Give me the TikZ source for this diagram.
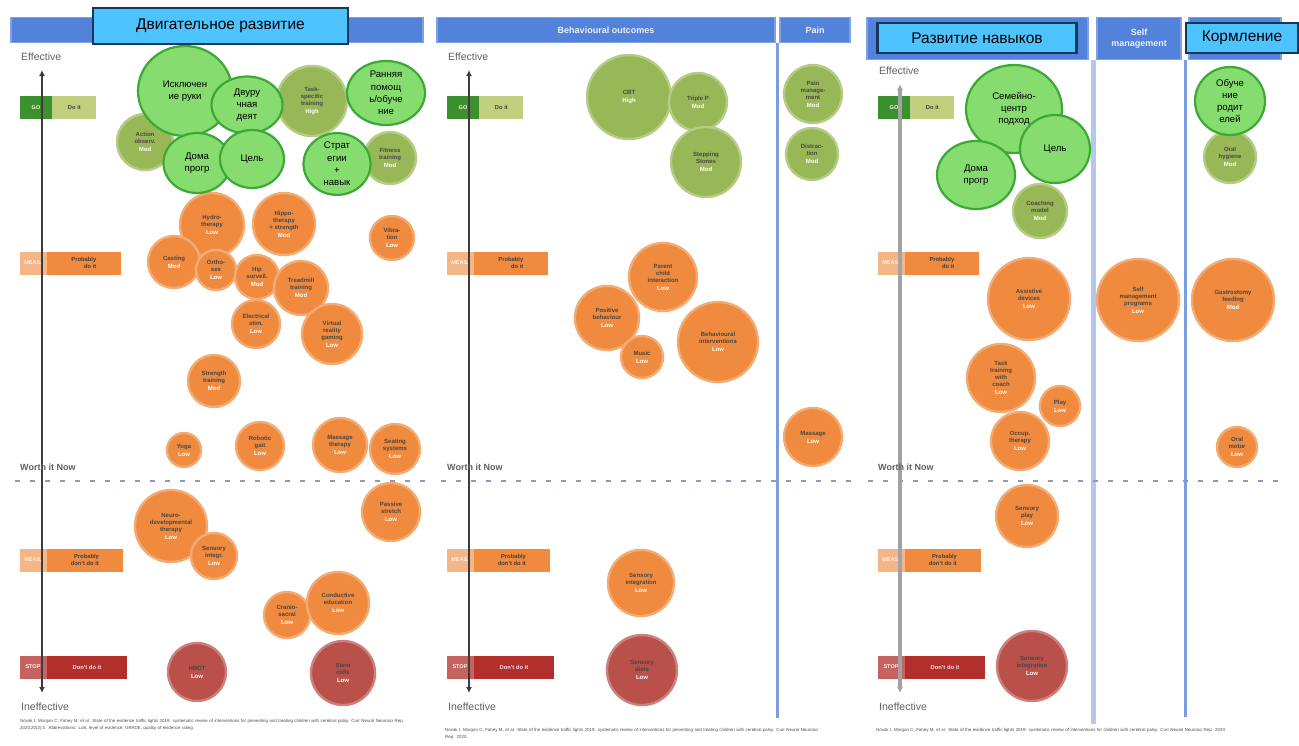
\documentclass[tikz,border=0pt]{standalone}
\usepackage{fontspec}
\setmainfont{Liberation Sans}
\usetikzlibrary{arrows.meta,shapes.geometric}
\definecolor{hdrblue}{HTML}{5382DA}
\definecolor{ttlfill}{HTML}{4DC3FF}
\definecolor{ttledge}{HTML}{16365C}
\definecolor{gfill}{HTML}{86DC6E}
\definecolor{gedge}{HTML}{3BAA34}
\definecolor{olivebub}{HTML}{98B857}
\definecolor{orng}{HTML}{EF8A3E}
\definecolor{rbub}{HTML}{B9504A}
\definecolor{rleg}{HTML}{B32F2C}
\definecolor{gleg}{HTML}{3D9030}
\definecolor{gtag}{HTML}{C2CF7E}
\definecolor{divblue}{HTML}{7C9CE2}
\definecolor{divlight}{HTML}{B3C7EF}
\definecolor{axdark}{HTML}{3C3C3C}
\definecolor{axlight}{HTML}{A2A2A2}
\definecolor{txtgray}{HTML}{606060}
\definecolor{dashc}{HTML}{8C9AB8}
\begin{document}
\begin{tikzpicture}[x=1pt,y=-1pt,
  every node/.style={inner sep=0pt},
  hbar/.style={rectangle, fill=hdrblue, draw=hdrblue!75!white, line width=1.2pt,
    text=white!88!hdrblue, font=\bfseries\fontsize{9}{10.5}\selectfont, align=center},
  ttl/.style={rectangle, fill=ttlfill, draw=ttledge, line width=2.4pt,
    font=\fontsize{15.5}{18}\selectfont, text=black},
  gb/.style={ellipse, fill=gfill, draw=gedge, line width=2.2pt, align=center,
    font=\fontsize{9.6}{12.3}\selectfont, text=black},
  soft/.style={circle, align=center, line width=2.4pt,
    font=\bfseries\fontsize{6}{7}\selectfont, text=black!72},
  ob/.style={soft, fill=orng, draw=orng!72!white},
  olb/.style={soft, fill=olivebub, draw=olivebub!72!white},
  rb/.style={soft, fill=rbub, draw=rbub!72!white},
  legL/.style={rectangle, minimum height=23, text=white!90!orng,
    font=\bfseries\fontsize{5.5}{6.5}\selectfont, align=center},
  legR/.style={rectangle, minimum height=23, anchor=west, text=black!75,
    font=\bfseries\fontsize{5.8}{6.8}\selectfont, align=right},
  vaxis/.style={line width=2.6pt, {Latex[length=6pt,width=6pt]}-{Latex[length=6pt,width=6pt]}},
  divider/.style={line width=3pt, draw=divblue},
  midline/.style={draw=dashc, line width=2.2pt, dash pattern=on 5pt off 10pt},
  axlabel/.style={anchor=west, text=txtgray, font=\fontsize{10.5}{12}\selectfont},
  wlabel/.style={anchor=west, text=txtgray, font=\bfseries\fontsize{9}{11}\selectfont},
  foot/.style={anchor=north west, align=left, text=black!70,
    font=\fontsize{4.4}{7}\selectfont}
]
\useasboundingbox (0,0) rectangle (1299,745);
\fill[white] (0,0) rectangle (1299,745);

% ---------- header bars ----------
\node[hbar, minimum width=412, minimum height=25] (hL) at (217,30) {};
\node[hbar, minimum width=338, minimum height=25] (hM1) at (606,30) {Behavioural outcomes};
\node[hbar, minimum width=70, minimum height=25] (hM2) at (815,30) {Pain};
\node[hbar, minimum width=221, minimum height=42] (hR1) at (977.5,38.5) {};
\node[hbar, minimum width=84, minimum height=42] (hR2) at (1139,38.5) {Self\\management};
\node[hbar, minimum width=92, minimum height=42] (hR3) at (1235,38.5) {};

% ---------- column dividers ----------
\coordinate (dM1) at (777,43);  \coordinate (dM2) at (777,718);
\coordinate (dR1) at (1093,60); \coordinate (dR2) at (1093,724);
\coordinate (dR3) at (1185,60); \coordinate (dR4) at (1185,717);
\draw[divider] (dM1) -- (dM2);
\draw[divider, draw=divlight, line width=5pt] (dR1) -- (dR2);
\draw[divider] (dR3) -- (dR4);

% ---------- dashed threshold lines ----------
\foreach \a/\b/\p in {15/426/L, 441/853/M, 868/1282/R}{
  \coordinate (ds\p) at (\a,481);
  \coordinate (de\p) at (\b,481);
  \draw[midline] (ds\p) -- (de\p);
}

% ---------- legend tags, axes and axis labels ----------
\foreach \ax/\p/\tp/\ac/\aw/\ey in {42/L/70/axdark/2.6/57, 469/M/70/axdark/2.6/57, 900/R/84/axlight/4.5/71}{
  \node[legL, fill=gleg, minimum width=32] (go\p) at (\ax-6,107.5) {GO};
  \node[legR, fill=gtag, minimum width=44] (goT\p) at (go\p.east) {Do it};
  \node[legL, fill=orng!62!white, minimum width=27] (pa\p) at (\ax-9,263) {MEAS.};
  \node[legR, fill=orng, minimum width=74] (paT\p) at (pa\p.east) {Probably\\do it};
  \node[legL, fill=orng!62!white, minimum width=27] (pb\p) at (\ax-9,560) {MEAS.};
  \node[legR, fill=orng, minimum width=76] (pbT\p) at (pb\p.east) {Probably\\don't do it};
  \node[legL, fill=rleg!75!white, minimum width=27] (st\p) at (\ax-9,667) {STOP};
  \node[legR, fill=rleg, minimum width=80, text=white!85!rleg] (stT\p) at (st\p.east) {Don't do it};
  \coordinate (top\p) at (\ax,\tp);
  \coordinate (bot\p) at (\ax,693);
  \draw[vaxis, draw=\ac, line width=\aw pt] (top\p) -- (bot\p);
  \node[axlabel] (eff\p) at (\ax-21,\ey) {Effective};
  \node[axlabel] (ineff\p) at (\ax-21,707) {Ineffective};
  \node[wlabel] (wn\p) at (\ax-22,467) {Worth it Now};
}

% ---------- motor development: blurred bubbles ----------
\node[olb, minimum size=70] (mo1) at (312,101) {Task-\\specific\\training\\[1pt]\textcolor{white}{High}};
\node[olb, minimum size=56] (mo2) at (145,142) {Action\\observ.\\[1pt]\textcolor{white}{Mod}};
\node[olb, minimum size=52] (mo3) at (390,158) {Fitness\\training\\[1pt]\textcolor{white}{Mod}};

\node[ob, minimum size=64] (ma) at (212,225) {Hydro-\\therapy\\[1pt]\textcolor{white}{Low}};
\node[ob, minimum size=62] (mb) at (284,224) {Hippo-\\therapy\\+ strength\\[1pt]\textcolor{white}{Mod}};
\node[ob, minimum size=44] (mc) at (392,238) {Vibra-\\tion\\[1pt]\textcolor{white}{Low}};
\node[ob, minimum size=52] (md) at (174,262) {Casting\\[1pt]\textcolor{white}{Mod}};
\node[ob, minimum size=40] (me) at (216,270) {Ortho-\\ses\\[1pt]\textcolor{white}{Low}};
\node[ob, minimum size=44] (mf) at (257,277) {Hip\\surveil.\\[1pt]\textcolor{white}{Mod}};
\node[ob, minimum size=54] (mg) at (301,288) {Treadmill\\training\\[1pt]\textcolor{white}{Mod}};
\node[ob, minimum size=48] (mh) at (256,324) {Electrical\\stim.\\[1pt]\textcolor{white}{Low}};
\node[ob, minimum size=60] (mi) at (332,334) {Virtual\\reality\\gaming\\[1pt]\textcolor{white}{Low}};
\node[ob, minimum size=52] (mj) at (214,381) {Strength\\training\\[1pt]\textcolor{white}{Mod}};
\node[ob, minimum size=34] (mk) at (184,450) {Yoga\\[1pt]\textcolor{white}{Low}};
\node[ob, minimum size=48] (ml) at (260,446) {Robotic\\gait\\[1pt]\textcolor{white}{Low}};
\node[ob, minimum size=54] (mm) at (340,445) {Massage\\therapy\\[1pt]\textcolor{white}{Low}};
\node[ob, minimum size=50] (mn) at (395,449) {Seating\\systems\\[1pt]\textcolor{white}{Low}};
\node[ob, minimum size=72] (mp) at (171,526) {Neuro-\\developmental\\therapy\\[1pt]\textcolor{white}{Low}};
\node[ob, minimum size=46] (mq) at (214,556) {Sensory\\integr.\\[1pt]\textcolor{white}{Low}};
\node[ob, minimum size=58] (mr) at (391,512) {Passive\\stretch\\[1pt]\textcolor{white}{Low}};
\node[ob, minimum size=46] (mt) at (287,615) {Cranio-\\sacral\\[1pt]\textcolor{white}{Low}};
\node[ob, minimum size=62] (ms) at (338,603) {Conductive\\education\\[1pt]\textcolor{white}{Low}};
\node[rb, minimum size=58] (mu) at (197,672) {HBOT\\[1pt]\textcolor{white}{Low}};
\node[rb, minimum size=64] (mv) at (343,673) {Stem\\cells\\[1pt]\textcolor{white}{Low}};

% ---------- behavioural outcomes and pain ----------
\node[olb, minimum size=84] (bg1) at (629,97) {CBT\\[1pt]\textcolor{white}{High}};
\node[olb, minimum size=58] (bg2) at (698,102) {Triple P\\[1pt]\textcolor{white}{Mod}};
\node[olb, minimum size=70] (bg3) at (706,162) {Stepping\\Stones\\[1pt]\textcolor{white}{Mod}};
\node[olb, minimum size=58] (pg1) at (813,94) {Pain\\manage-\\ment\\[1pt]\textcolor{white}{Mod}};
\node[olb, minimum size=52] (pg2) at (812,154) {Distrac-\\tion\\[1pt]\textcolor{white}{Mod}};
\node[ob, minimum size=68] (bo1) at (663,277) {Parent\\child\\interaction\\[1pt]\textcolor{white}{Low}};
\node[ob, minimum size=64] (bo2) at (607,318) {Positive\\behaviour\\[1pt]\textcolor{white}{Low}};
\node[ob, minimum size=42] (bo3) at (642,357) {Music\\[1pt]\textcolor{white}{Low}};
\node[ob, minimum size=80] (bo4) at (718,342) {Behavioural\\interventions\\[1pt]\textcolor{white}{Low}};
\node[ob, minimum size=58] (po1) at (813,437) {Massage\\[1pt]\textcolor{white}{Low}};
\node[ob, minimum size=66] (bo5) at (641,583) {Sensory\\integration\\[1pt]\textcolor{white}{Low}};
\node[rb, minimum size=70] (br1) at (642,670) {Sensory\\diets\\[1pt]\textcolor{white}{Low}};

% ---------- skills, self management and feeding ----------
\node[olb, minimum size=52] (fg1) at (1230,157) {Oral\\hygiene\\[1pt]\textcolor{white}{Mod}};
\node[olb, minimum size=54] (sg1) at (1040,211) {Coaching\\model\\[1pt]\textcolor{white}{Mod}};
\node[ob, minimum size=82] (so1) at (1029,299) {Assistive\\devices\\[1pt]\textcolor{white}{Low}};
\node[ob, minimum size=82] (so2) at (1138,300) {Self\\management\\programs\\[1pt]\textcolor{white}{Low}};
\node[ob, minimum size=82] (fo1) at (1233,300) {Gastrostomy\\feeding\\[1pt]\textcolor{white}{Mod}};
\node[ob, minimum size=68] (so3) at (1001,378) {Task\\training\\with\\coach\\[1pt]\textcolor{white}{Low}};
\node[ob, minimum size=40] (so4) at (1060,406) {Play\\[1pt]\textcolor{white}{Low}};
\node[ob, minimum size=58] (so5) at (1020,441) {Occup.\\therapy\\[1pt]\textcolor{white}{Low}};
\node[ob, minimum size=40] (fo2) at (1237,447) {Oral\\motor\\[1pt]\textcolor{white}{Low}};
\node[ob, minimum size=62] (so6) at (1027,516) {Sensory\\play\\[1pt]\textcolor{white}{Low}};
\node[rb, minimum size=70] (sr1) at (1032,666) {Sensory\\integration\\[1pt]\textcolor{white}{Low}};

% ---------- highlighted bubbles ----------
\node[gb, minimum width=94, minimum height=90] (hand) at (185,91) {Исключен\\ие руки};
\node[gb, minimum width=71, minimum height=57] (bim) at (247,105) {Двуру\\чная\\деят};
\node[gb, minimum width=67, minimum height=60] (homeL) at (197,163) {Дома\\прогр};
\node[gb, minimum width=64, minimum height=58] (goalL) at (252,159) {Цель};
\node[gb, minimum width=78, minimum height=64] (early) at (386,93) {Ранняя\\помощ\\ь/обуче\\ние};
\node[gb, minimum width=67, minimum height=58] (strat) at (337,164) {Страт\\егии\\+\\навык};

\node[gb, minimum width=96, minimum height=88] (family) at (1014,109) {Семейно-\\центр\\подход};
\node[gb, minimum width=70, minimum height=68] (goalR) at (1055,149) {Цель};
\node[gb, minimum width=78, minimum height=68] (homeR) at (976,175) {Дома\\прогр};
\node[gb, minimum width=70, minimum height=68] (parent) at (1230,101) {Обуче\\ние\\родит\\елей};

% ---------- section titles ----------
\node[ttl, minimum width=255, minimum height=36] (tMotor) at (220.5,26) {Двигательное развитие};
\node[ttl, minimum width=199, minimum height=30] (tSkill) at (977,38) {Развитие навыков};
\node[ttl, minimum width=112, minimum height=30] (tFeed) at (1242,38) {Кормление};

% ---------- sources ----------
\node[foot, text width=385] (srcL) at (20,719) {Novak I, Morgan C, Fahey M, et al. State of the evidence traffic lights 2019: systematic review of interventions for preventing and treating children with cerebral palsy. Curr Neurol Neurosci Rep. 2020;20(2):3. Abbreviations: LoE, level of evidence; GRADE, quality of evidence rating.};
\node[foot, text width=380] (srcM) at (445,728) {Novak I, Morgan C, Fahey M, et al. State of the evidence traffic lights 2019: systematic review of interventions for preventing and treating children with cerebral palsy. Curr Neurol Neurosci Rep. 2020.};
\node[foot, text width=360] (srcR) at (876,728) {Novak I, Morgan C, Fahey M, et al. State of the evidence traffic lights 2019: systematic review of interventions for children with cerebral palsy. Curr Neurol Neurosci Rep. 2020.};
\end{tikzpicture}
\end{document}
